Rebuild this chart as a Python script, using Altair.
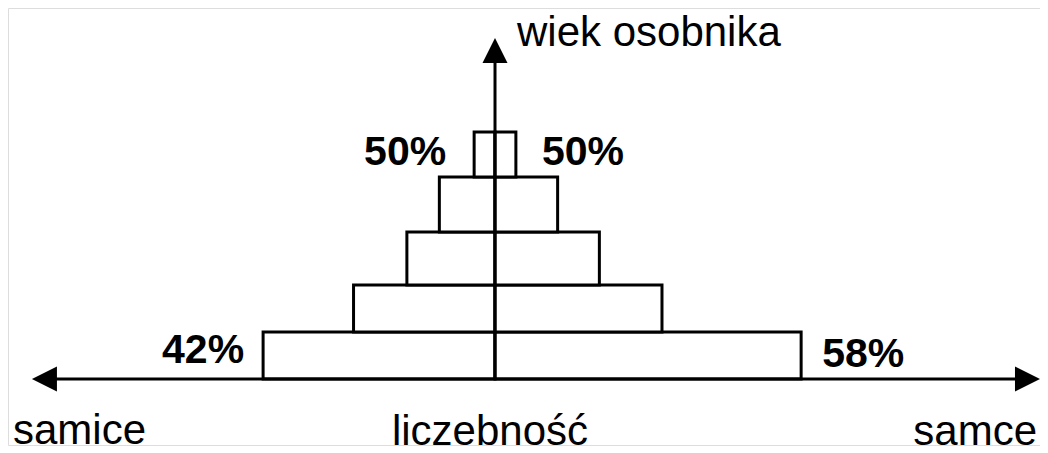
import altair as alt
import pandas as pd

# Age classes (bottom boundary / top boundary, arbitrary age units)
age_lo = [0, 47, 94, 147, 202]
age_hi = [47, 94, 147, 202, 247]
# Counts per age class (arbitrary units)
females = [100, 61, 38, 24, 9]
males = [132, 72, 45, 27, 9]
# Percent labels
bottom_labels = ["42%", "58%"]
top_labels = ["50%", "50%"]
# Axis texts
title_y = "wiek osobnika"
title_left = "samice"
title_right = "samce"
title_x = "liczebność"

FONT = "Liberation Sans"
X_DOMAIN = [-210, 235]
Y_DOMAIN = [-66, 371]
AX_LEFT, AX_RIGHT, AX_TOP = -194.3, 229.6, 328.5

rows = []
for lo, hi, f, m in zip(age_lo, age_hi, females, males):
    rows.append({"x": -f, "x2": 0, "y": lo, "y2": hi, "sex": "samice"})
    rows.append({"x": 0, "x2": m, "y": lo, "y2": hi, "sex": "samce"})
bars_df = pd.DataFrame(rows)

xs = alt.Scale(domain=X_DOMAIN, nice=False, zero=False)
ys = alt.Scale(domain=Y_DOMAIN, nice=False, zero=False)

bars = alt.Chart(bars_df).mark_rect(fill="white", stroke="black", strokeWidth=3).encode(
    x=alt.X("x:Q", scale=xs, axis=None),
    x2="x2:Q",
    y=alt.Y("y:Q", scale=ys, axis=None),
    y2="y2:Q",
)

hline = alt.Chart(pd.DataFrame({"x": [AX_LEFT], "x2": [AX_RIGHT], "y": [0]})).mark_rule(
    color="black", strokeWidth=3
).encode(x=alt.X("x:Q", scale=xs), x2="x2:Q", y=alt.Y("y:Q", scale=ys))

vline = alt.Chart(pd.DataFrame({"x": [0], "y": [0], "y2": [AX_TOP]})).mark_rule(
    color="black", strokeWidth=3
).encode(x=alt.X("x:Q", scale=xs), y=alt.Y("y:Q", scale=ys), y2="y2:Q")

def arrow(x, y, path):
    return alt.Chart(pd.DataFrame({"x": [x], "y": [y]})).mark_point(
        shape=path, size=625, filled=True, fill="black", stroke="black", strokeWidth=0, opacity=1
    ).encode(x=alt.X("x:Q", scale=xs), y=alt.Y("y:Q", scale=ys))

arr_up = arrow(0, AX_TOP, "M0,-1L1,1L-1,1Z")
arr_left = arrow(AX_LEFT, 0, "M-1,0L1,-1L1,1Z")
arr_right = arrow(AX_RIGHT, 0, "M1,0L-1,-1L-1,1Z")

def label(x, y, text, align, dx, dy, bold=True):
    return alt.Chart(pd.DataFrame({"x": [x], "y": [y], "t": [text]})).mark_text(
        font=FONT, fontSize=41, fontWeight="bold" if bold else "normal",
        align=align, baseline="alphabetic", dx=dx, dy=dy, color="black"
    ).encode(x=alt.X("x:Q", scale=xs), y=alt.Y("y:Q", scale=ys), text="t:N")

lab_tl = label(-females[-1], age_lo[-1], top_labels[0], "right", -28, -12)
lab_tr = label(males[-1], age_lo[-1], top_labels[1], "left", 26, -12)
lab_bl = label(-females[0], age_lo[0], bottom_labels[0], "right", -19, -16)
lab_br = label(males[0], age_lo[0], bottom_labels[1], "left", 21, -12)

def title(text, px, py, align):
    return alt.Chart(pd.DataFrame({"t": [text]})).mark_text(
        font=FONT, fontSize=42, align=align, baseline="alphabetic", color="black"
    ).encode(x=alt.value(px), y=alt.value(py), text="t:N")

t_y = title(title_y, 509, 38, "left")
t_l = title(title_left, 5, 436, "left")
t_r = title(title_right, 1029, 437, "right")
t_x = title(title_x, 482, 437, "center")

chart = alt.layer(
    bars, hline, vline, arr_up, arr_left, arr_right,
    lab_tl, lab_tr, lab_bl, lab_br, t_y, t_l, t_r, t_x
).properties(
    width=1032, height=437,
    autosize=alt.AutoSizeParams(type="none"),
    padding={"left": 0, "top": 0, "right": 0, "bottom": 8},
).configure_view(strokeWidth=0, strokeOpacity=0).configure(background="white")

chart.save("out.html", embed_options={"renderer": "svg", "actions": False})
